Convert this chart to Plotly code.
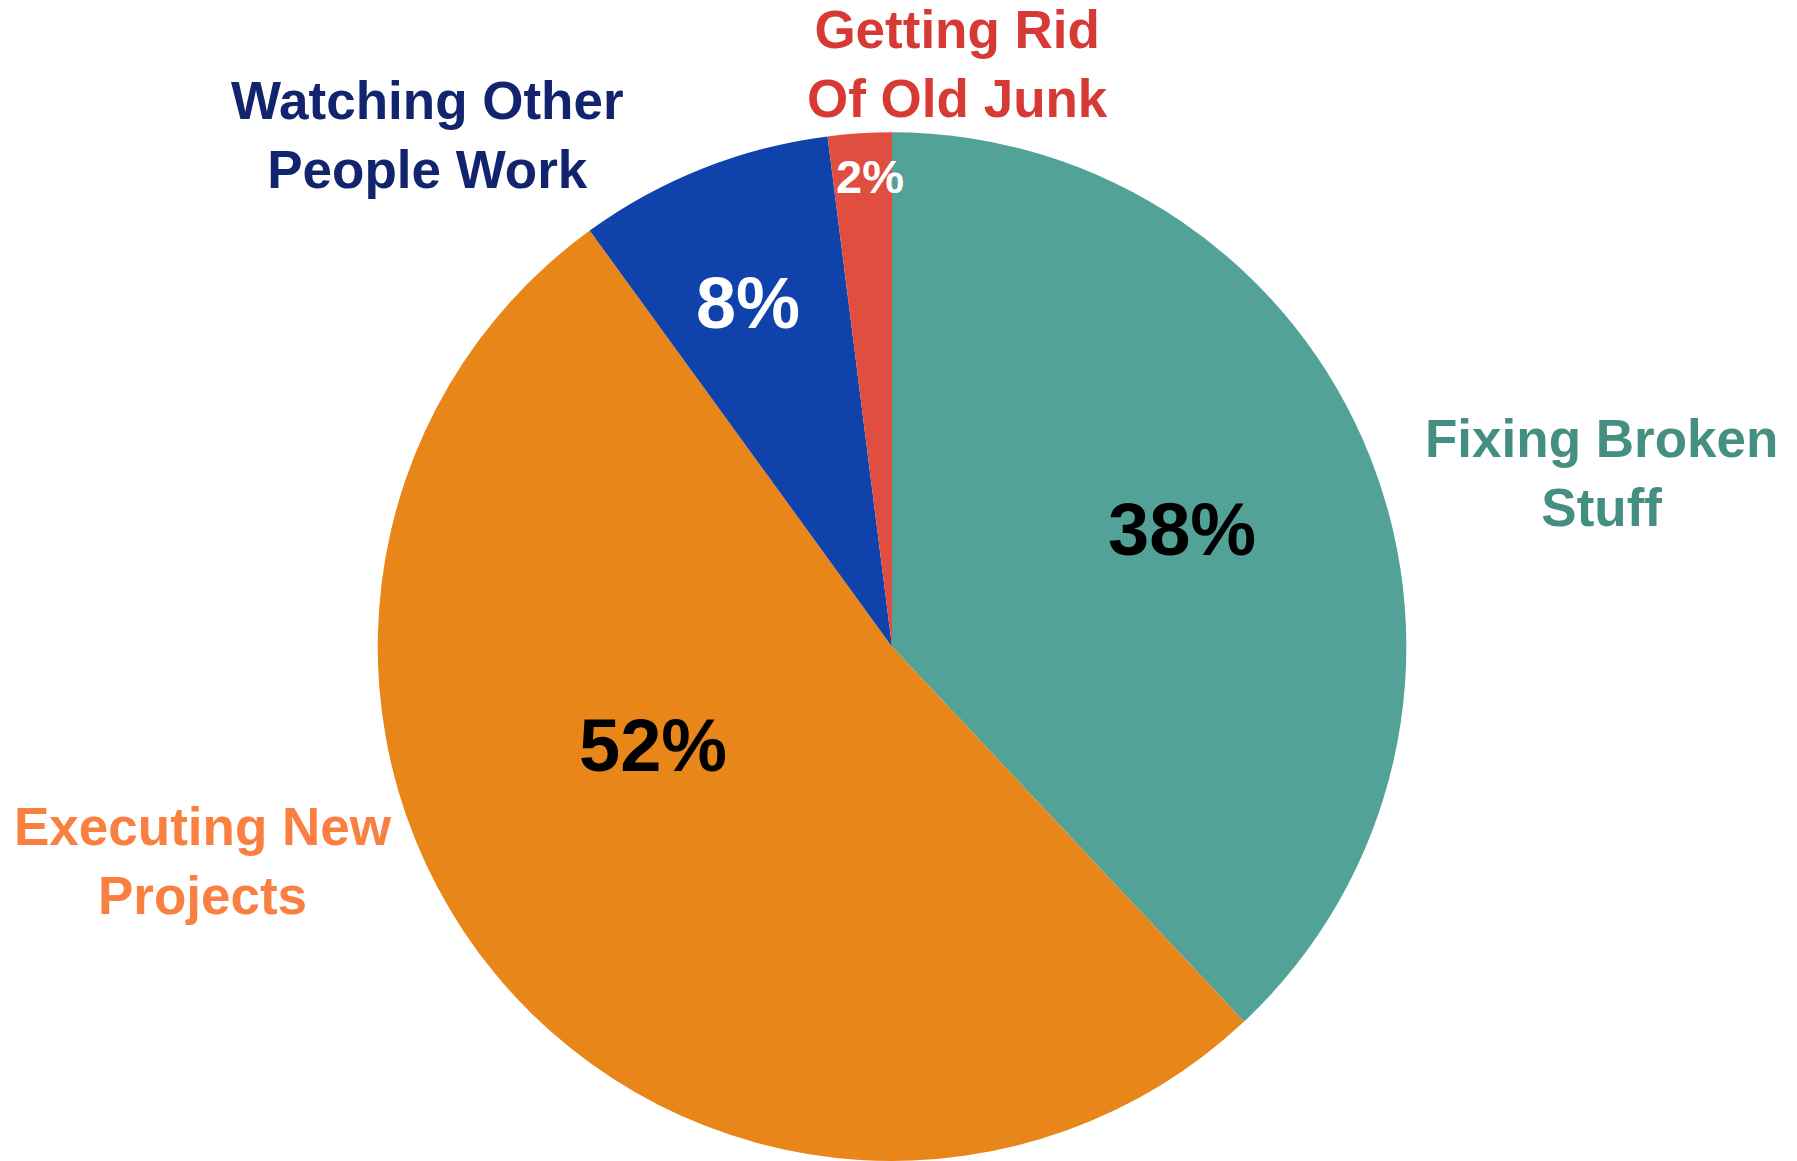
import plotly.graph_objects as go

# Share of time spent on each kind of work
labels = ["Fixing Broken<br>Stuff", "Executing New<br>Projects",
          "Watching Other<br>People Work", "Getting Rid<br>Of Old Junk"]
values = [38, 52, 8, 2]
slice_colors = ["#52A297", "#E8861A", "#0F42AB", "#E04E40"]
label_colors = ["#458F82", "#F98040", "#13246E", "#D73A35"]
pct_colors = ["#000000", "#000000", "#FFFFFF", "#FFFFFF"]
pct_sizes = [74, 74, 72, 47]

# Outer category label placement (paper coordinates)
label_pos = [(0.891, 0.593), (0.113, 0.258), (0.238, 0.884), (0.533, 0.945)]
# Percentage label placement inside each slice (paper coordinates)
pct_pos = [(0.6578, 0.5435), (0.3634, 0.3575), (0.4160, 0.7386), (0.4841, 0.8484)]

FONT = "Liberation Sans, Arial, Helvetica, sans-serif"

fig = go.Figure(go.Pie(
    labels=labels,
    values=values,
    sort=False,
    direction="clockwise",
    rotation=0,
    marker=dict(colors=slice_colors, line=dict(width=0)),
    textinfo="none",
    domain=dict(x=[0.2093, 0.7835], y=[0.0, 0.886]),
    showlegend=False,
    hoverinfo="label+percent",
))

total = sum(values)
for v, col, size, (x, y) in zip(values, pct_colors, pct_sizes, pct_pos):
    fig.add_annotation(
        text=f"<b>{round(100 * v / total)}%</b>", x=x, y=y,
        xref="paper", yref="paper", xanchor="center", yanchor="middle",
        showarrow=False, font=dict(family=FONT, size=size, color=col),
    )

for lab, col, (x, y) in zip(labels, label_colors, label_pos):
    fig.add_annotation(
        text=f"<b>{lab}</b>", x=x, y=y, xref="paper", yref="paper",
        xanchor="center", yanchor="middle", showarrow=False, align="center",
        font=dict(family=FONT, size=53, color=col),
    )

fig.update_layout(
    width=1797, height=1161,
    margin=dict(l=0, r=0, t=0, b=0),
    paper_bgcolor="white", plot_bgcolor="white",
)

fig.write_html("out.html")
